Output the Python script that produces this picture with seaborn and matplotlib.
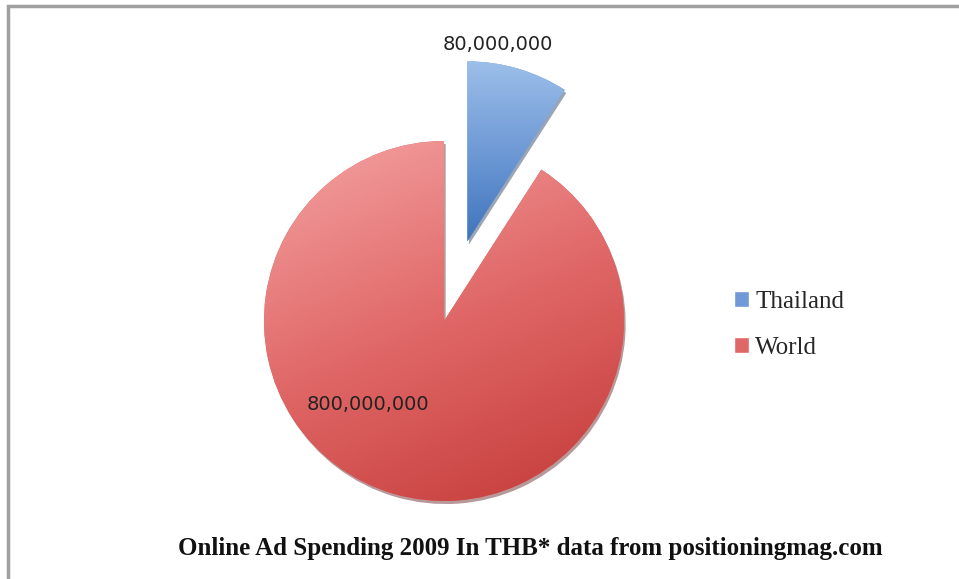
import matplotlib
matplotlib.use("Agg")
import numpy as np
import matplotlib.pyplot as plt
import matplotlib.patches as mpatches
import seaborn as sns

# data
countries = ["Thailand", "World"]
spending_thb = [80_000_000, 800_000_000]
title = "Online Ad Spending 2009 In THB* data from positioningmag.com"

# Office-like colours: light -> dark for each slice
blue_shades = ["#9dbfe9", "#6f9ad6", "#3f74bd"]
red_shades = ["#f5a3a3", "#e06767", "#c33a37"]

sns.set_style("white")

W, H = 959, 579
fig = plt.figure(figsize=(W / 100, H / 100), dpi=100)
ax = fig.add_axes([0, 0, 1, 1])
ax.set_axis_off()

cx, cy, r = 444, H - 321, 180

wedges, _ = ax.pie(
    spending_thb,
    explode=[83, 0],
    startangle=90,
    counterclock=False,
    center=(cx, cy),
    radius=r,
    colors=[blue_shades[1], red_shades[1]],
    wedgeprops=dict(linewidth=0),
    shadow=dict(ox=1.2, oy=-2.2, shade=0.5),
)

# gradient fill clipped to each wedge
grad = np.linspace(0, 1, 256)
gx, gy = np.meshgrid(grad, grad)
fills = [
    (sns.blend_palette(blue_shades, as_cmap=True), gy),
    (sns.blend_palette(red_shades, as_cmap=True), 0.3 * gx + 0.7 * gy),
]
for w, (cmap, g) in zip(wedges, fills):
    ext = w.get_path().get_extents()
    im = ax.imshow(g, cmap=cmap, extent=(ext.x0, ext.x1, ext.y0, ext.y1),
                   origin="upper", interpolation="bilinear", zorder=w.get_zorder() + 0.1)
    im.set_clip_path(w)

ax.set_xlim(0, W)
ax.set_ylim(0, H)
ax.set_aspect("equal")

# value labels
label_pos = [(498, H - 45), (368, H - 405)]
for v, (lx, ly) in zip(spending_thb, label_pos):
    ax.text(lx, ly, f"{v:,}", ha="center", va="center", fontsize=14,
            color="#222222", family="DejaVu Sans", zorder=5)

# legend
handles = [mpatches.Patch(facecolor=c) for c in [blue_shades[1], red_shades[1]]]
ax.legend(handles, countries, loc="center left", bbox_to_anchor=(734, H - 325),
          bbox_transform=ax.transData, frameon=False, borderpad=0,
          borderaxespad=0, handlelength=0.6, handleheight=0.6, handletextpad=0.25,
          labelspacing=0.95, prop=dict(family="Liberation Serif", size=18))

ax.text(530, H - 548, title, ha="center", va="center", fontsize=18,
        fontweight="bold", family="Liberation Serif", color="#111111")

# grey chart frame, cut off on the right and bottom
fig.patches.append(mpatches.Rectangle((8 / W, -0.1), 1.2, 1 - 6 / H + 0.1,
                                      transform=fig.transFigure, fill=False,
                                      edgecolor="#a0a0a0", linewidth=2.5))

fig.savefig("out.png", dpi=100)
